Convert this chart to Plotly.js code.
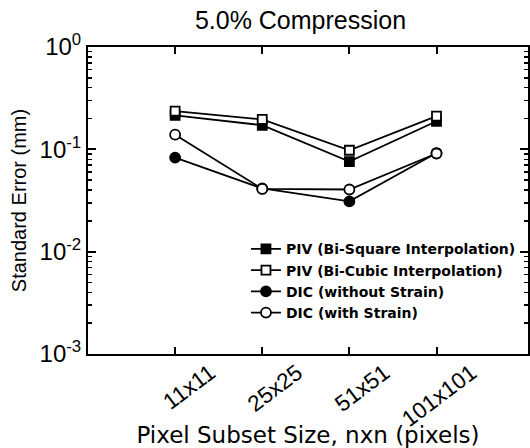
<!DOCTYPE html>
<html><head><meta charset="utf-8">
<script src="https://cdn.plot.ly/plotly-3.0.1.min.js"></script>
<style>html,body{margin:0;padding:0;background:#fff}#chart{width:530px;height:448px}</style>
</head><body><div id="chart"></div>
<script>
const categories = ["11x11", "25x25", "51x51", "101x101"];
const pivBiSquare = [0.215, 0.172, 0.076, 0.188];
const pivBiCubic = [0.236, 0.196, 0.098, 0.211];
const dicWithoutStrain = [0.083, 0.0415, 0.031, 0.092];
const dicWithStrain = [0.139, 0.041, 0.0405, 0.091];
const seriesNames = ["PIV (Bi-Square Interpolation)", "PIV (Bi-Cubic Interpolation)", "DIC (without Strain)", "DIC (with Strain)"];
const yTickVals = [0.001, 0.01, 0.1, 1];
const yTickText = ["10<sup>-3</sup>", "10<sup>-2</sup>", "10<sup>-1</sup>", "10<sup>0</sup>"];

const xIdx = categories.map((c, i) => i);
const minorVals = [];
[0.001, 0.01, 0.1].forEach(d => { for (let k = 2; k <= 9; k++) minorVals.push(d * k); });

const FONT = "Liberation Sans, Arial, sans-serif";
const WIDE = "DejaVu Sans, Verdana, sans-serif";
function tr(y, name, symbol, open) {
  return {x: xIdx, y: y, name: name, type: 'scatter', mode: 'lines+markers',
    line: {color: '#000', width: 1.8},
    marker: {symbol: symbol, size: symbol === 'square' ? 9 : 10, color: open ? '#fff' : '#000', line: {color: '#000', width: 1.8}}};
}
const data = [
  tr(pivBiSquare, seriesNames[0], 'square', false),
  tr(pivBiCubic, seriesNames[1], 'square', true),
  tr(dicWithoutStrain, seriesNames[2], 'circle', false),
  tr(dicWithStrain, seriesNames[3], 'circle', true)
];

const layout = {
  width: 530, height: 448,
  margin: {l: 88, r: 2, t: 47, b: 94},
  paper_bgcolor: '#fff', plot_bgcolor: '#fff',
  font: {family: FONT, color: '#000'},
  title: {text: '5.0% Compression', font: {size: 25, family: FONT, color: '#000'}, x: 0.567, xanchor: 'center', y: 0.955, yanchor: 'middle'},
  showlegend: true,
  legend: {x: 0.359, y: 0.393, xanchor: 'left', yanchor: 'top', bgcolor: 'rgba(0,0,0,0)',
    font: {size: 14, family: WIDE, weight: 'bold', color: '#000'}, tracegroupgap: 0, itemwidth: 30},
  xaxis: {
    range: [-1, 4.05], tickmode: 'array', tickvals: xIdx, ticktext: categories,
    tickangle: -37, ticks: 'inside', ticklen: 7, tickwidth: 2, tickcolor: '#000',
    showline: true, linewidth: 2, linecolor: '#000', mirror: 'ticks', showgrid: false, zeroline: false,
    tickfont: {size: 22.5, family: FONT, color: '#000'}, ticklabelshift: 35, ticklabelstandoff: -5,
    title: {text: 'Pixel Subset Size, nxn (pixels)', font: {size: 23, family: WIDE, color: '#000'}, standoff: 0}
  },
  yaxis: {
    type: 'log', range: [-3, 0], tickmode: 'array', tickvals: yTickVals, ticktext: yTickText,
    ticks: 'inside', ticklen: 8, tickwidth: 2, tickcolor: '#000',
    minor: {tickmode: 'array', tickvals: minorVals, ticks: 'inside', ticklen: 4, tickwidth: 1.5, tickcolor: '#000', showgrid: false},
    showline: true, linewidth: 2, linecolor: '#000', mirror: 'ticks', showgrid: false, zeroline: false,
    tickfont: {size: 24, family: FONT, color: '#000'},
    title: {text: 'Standard Error (mm)', font: {size: 20, family: FONT, color: '#000'}, standoff: 8}
  }
};
Plotly.newPlot('chart', data, layout, {displayModeBar: false, staticPlot: true});
</script></body></html>
